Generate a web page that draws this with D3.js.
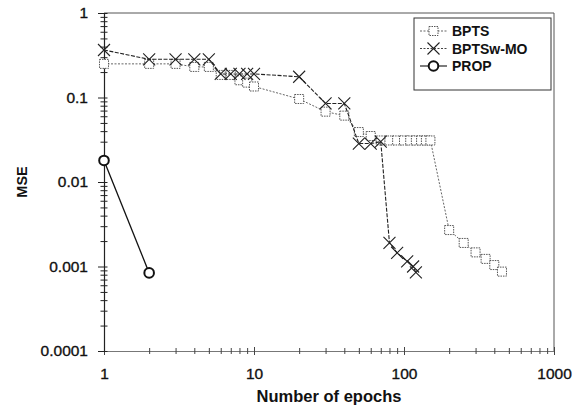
<!DOCTYPE html>
<html>
<head>
<meta charset="utf-8">
<script src="https://cdn.jsdelivr.net/npm/d3@7"></script>
<style>
  body { margin: 0; background: #fff; }
  svg { display: block; font-family: "Liberation Sans", Arial, sans-serif; }
</style>
</head>
<body>
<div id="chart"></div>
<script>
const bptsEpochs = [1, 2, 3, 4, 5, 6, 7, 8, 9, 10, 20, 30, 40, 50, 60, 70, 80, 90, 100, 110, 120, 130, 140, 150, 200, 250, 300, 350, 400, 450];
const bptsMse = [0.25, 0.25, 0.25, 0.23, 0.23, 0.185, 0.185, 0.16, 0.15, 0.135, 0.096, 0.068, 0.061, 0.039, 0.035, 0.031, 0.031, 0.031, 0.031, 0.031, 0.031, 0.031, 0.031, 0.031, 0.0027, 0.0019, 0.00147, 0.00123, 0.00104, 0.00087];

const moEpochs = [1, 2, 3, 4, 5, 6, 7, 8, 9, 10, 20, 30, 40, 50, 60, 70, 80, 90, 105, 115, 120];
const moMse = [0.365, 0.283, 0.283, 0.283, 0.283, 0.19, 0.19, 0.19, 0.19, 0.19, 0.176, 0.085, 0.085, 0.0285, 0.0285, 0.03, 0.0019, 0.00145, 0.00115, 0.001, 0.00085];

const propEpochs = [1, 2];
const propMse = [0.018, 0.00084];

const xTickLabels = ["1", "10", "100", "1000"];
const yTickLabels = ["0.0001", "0.001", "0.01", "0.1", "1"];
const seriesNames = ["BPTS", "BPTSw-MO", "PROP"];

const width = 577, height = 410;
const margin = { top: 13, right: 23, bottom: 59, left: 104 };
const innerW = width - margin.left - margin.right;
const innerH = height - margin.top - margin.bottom;

const svg = d3.select("#chart").append("svg")
  .attr("width", width)
  .attr("height", height);

const g = svg.append("g")
  .attr("transform", `translate(${margin.left},${margin.top})`);

const x = d3.scaleLog().domain([1, 1000]).range([0, innerW]);
const y = d3.scaleLog().domain([0.0001, 1]).range([innerH, 0]);

const isMajor = v => Math.abs(Math.log10(v) - Math.round(Math.log10(v))) < 1e-9;

// frame (top and right)
g.append("path")
  .attr("d", `M0,0H${innerW}V${innerH}`)
  .attr("fill", "none")
  .attr("stroke", "#555")
  .attr("stroke-width", 1);

// x axis
const xTicks = [];
for (let e = 0; e < 3; e++) for (let k = 1; k < 10; k++) xTicks.push(k * Math.pow(10, e));
xTicks.push(1000);

const xAxis = g.append("g")
  .attr("transform", `translate(0,${innerH})`)
  .call(d3.axisBottom(x).tickValues(xTicks).tickSizeOuter(0)
    .tickFormat(d => isMajor(d) ? xTickLabels[Math.round(Math.log10(d))] : ""));
xAxis.select(".domain").attr("stroke", "#777").attr("stroke-width", 1.2);
xAxis.selectAll(".tick line")
  .attr("y1", d => isMajor(d) ? -4 : -3)
  .attr("y2", d => isMajor(d) ? 4 : 3)
  .attr("stroke", "#444");
xAxis.selectAll(".tick text")
  .attr("y", 17)
  .style("font-size", "15.5px")
  .style("fill", "#111")
  .style("stroke", "#111")
  .style("stroke-width", 0.35);

// y axis
const yTicks = [];
for (let e = -4; e < 0; e++) for (let k = 1; k < 10; k++) yTicks.push(k * Math.pow(10, e));
yTicks.push(1);

const yAxis = g.append("g")
  .call(d3.axisLeft(y).tickValues(yTicks).tickSizeOuter(0)
    .tickFormat(d => isMajor(d) ? yTickLabels[Math.round(Math.log10(d)) + 4] : ""));
yAxis.select(".domain").attr("stroke", "#222").attr("stroke-width", 1.2);
yAxis.selectAll(".tick line")
  .attr("x1", d => isMajor(d) ? -6 : -3.5)
  .attr("x2", 3.5)
  .attr("stroke", "#222");
yAxis.selectAll(".tick text")
  .attr("x", -16)
  .style("font-size", "15.5px")
  .style("fill", "#111")
  .style("stroke", "#111")
  .style("stroke-width", 0.35);

// axis titles
svg.append("text")
  .attr("x", 329)
  .attr("y", 402)
  .attr("text-anchor", "middle")
  .style("font-size", "16.5px")
  .style("font-weight", "bold")
  .style("fill", "#111")
  .text("Number of epochs");

svg.append("text")
  .attr("transform", "translate(27,182) rotate(-90)")
  .attr("text-anchor", "middle")
  .style("font-size", "14.5px")
  .style("font-weight", "bold")
  .style("fill", "#111")
  .text("MSE");

const line = d3.line().x(d => x(d[0])).y(d => y(d[1]));

const bpts = bptsEpochs.map((e, i) => [e, bptsMse[i]]);
const mo = moEpochs.map((e, i) => [e, moMse[i]]);
const prop = propEpochs.map((e, i) => [e, propMse[i]]);

function squareMarker(sel) {
  sel.append("rect")
    .attr("x", -4.5).attr("y", -4.5)
    .attr("width", 9).attr("height", 9)
    .attr("fill", "#fff")
    .attr("stroke", "#555")
    .attr("stroke-width", 1)
    .attr("stroke-dasharray", "1.5,1");
}
function crossMarker(sel) {
  sel.append("path")
    .attr("d", "M-6,-6L6,6M-6,6L6,-6")
    .attr("stroke", "#222")
    .attr("stroke-width", 1.1);
}
function circleMarker(sel) {
  sel.append("circle")
    .attr("r", 4.8)
    .attr("fill", "#fff")
    .attr("stroke", "#111")
    .attr("stroke-width", 2);
}

// BPTS
g.append("path")
  .datum(bpts)
  .attr("d", line)
  .attr("fill", "none")
  .attr("stroke", "#666")
  .attr("stroke-width", 1)
  .attr("stroke-dasharray", "2,1.5");
g.selectAll(".sq")
  .data(bpts)
  .join("g")
  .attr("class", "sq")
  .attr("transform", d => `translate(${x(d[0])},${y(d[1])})`)
  .call(squareMarker);

// BPTSw-MO
g.append("path")
  .datum(mo)
  .attr("d", line)
  .attr("fill", "none")
  .attr("stroke", "#222")
  .attr("stroke-width", 1.1)
  .attr("stroke-dasharray", "4,1.5");
g.selectAll(".cx")
  .data(mo)
  .join("g")
  .attr("class", "cx")
  .attr("transform", d => `translate(${x(d[0])},${y(d[1])})`)
  .call(crossMarker);

// PROP
g.append("path")
  .datum(prop)
  .attr("d", line)
  .attr("fill", "none")
  .attr("stroke", "#111")
  .attr("stroke-width", 1.3);
g.selectAll(".ci")
  .data(prop)
  .join("g")
  .attr("class", "ci")
  .attr("transform", d => `translate(${x(d[0])},${y(d[1])})`)
  .call(circleMarker);

// legend
const legend = svg.append("g");
legend.append("rect")
  .attr("x", 414).attr("y", 18)
  .attr("width", 137).attr("height", 72)
  .attr("fill", "#fff")
  .attr("stroke", "#333")
  .attr("stroke-width", 1);

const legendStyles = [
  { stroke: "#666", dash: "2,1.5", marker: squareMarker },
  { stroke: "#444", dash: "2,1.5", marker: crossMarker },
  { stroke: "#111", dash: null, marker: circleMarker }
];

const items = legend.selectAll(".legend-item")
  .data(seriesNames)
  .join("g")
  .attr("class", "legend-item")
  .attr("transform", (d, i) => `translate(420,${31 + i * 17.5})`);

items.append("line")
  .attr("x1", 0).attr("x2", 27)
  .attr("stroke", (d, i) => legendStyles[i].stroke)
  .attr("stroke-width", 1.1)
  .attr("stroke-dasharray", (d, i) => legendStyles[i].dash);

items.each(function(d, i) {
  d3.select(this).append("g")
    .attr("transform", "translate(13.5,0)")
    .call(legendStyles[i].marker);
});

items.append("text")
  .attr("x", 32)
  .attr("dy", "0.36em")
  .style("font-size", "14px")
  .style("font-weight", "bold")
  .style("fill", "#111")
  .text(d => d);
</script>
</body>
</html>
